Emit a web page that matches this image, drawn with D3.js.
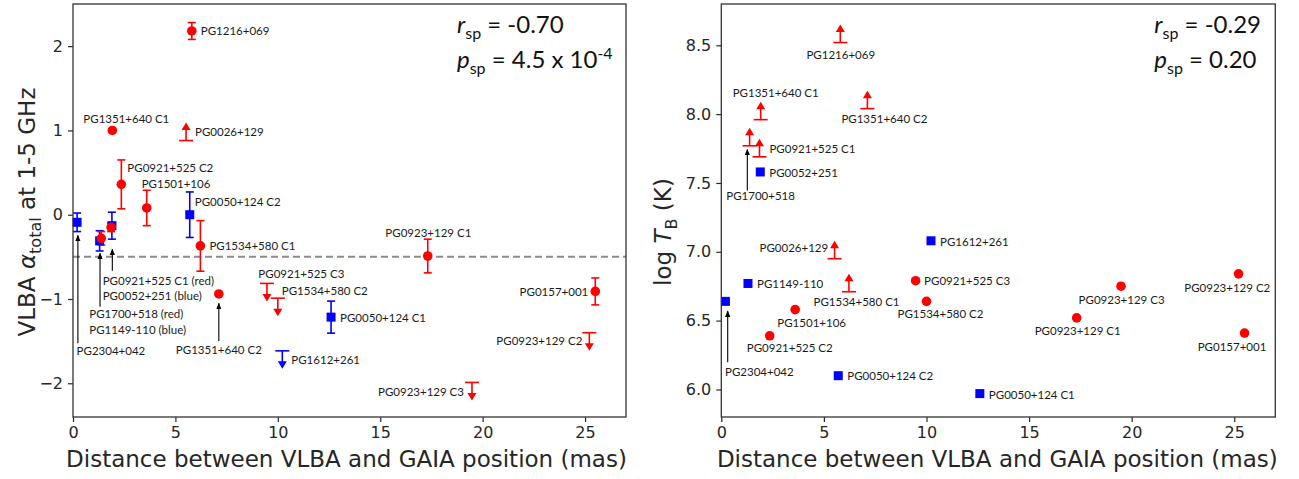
<!DOCTYPE html>
<html>
<head>
<meta charset="utf-8">
<script src="https://cdn.jsdelivr.net/npm/d3@7"></script>
<style>
  body { margin: 0; background: #fff; }
  svg { display: block; }
</style>
</head>
<body>
<svg id="fig" width="1299" height="479"></svg>
<script>
// ---- Source list shared by both panels ----
const sources = [
  "PG1216+069", "PG1351+640 C1", "PG0026+129", "PG0921+525 C2", "PG1501+106",
  "PG0050+124 C2", "PG1534+580 C1", "PG2304+042", "PG1149-110", "PG1700+518",
  "PG0052+251", "PG0921+525 C1", "PG1351+640 C2", "PG0921+525 C3", "PG1534+580 C2",
  "PG1612+261", "PG0050+124 C1", "PG0923+129 C1", "PG0923+129 C3", "PG0923+129 C2",
  "PG0157+001"
];
// Offset between VLBA and GAIA positions (mas)
const distanceMas = [
  5.80, 1.92, 5.52, 2.36, 3.60,
  5.70, 6.22, 0.20, 1.30, 1.38,
  1.90, 1.86, 7.12, 9.47, 10.00,
  10.22, 12.60, 17.32, 19.48, 25.21,
  25.50
];
// Sample membership: "A" drawn as red circles, "B" as blue squares
const sampleGroup = [
  "A", "A", "A", "A", "A",
  "B", "A", "B", "B", "A",
  "B", "A", "A", "A", "A",
  "B", "B", "A", "A", "A",
  "A"
];
// Total spectral index between 1 and 5 GHz
const alphaTotal = [
  2.18, 1.00, 0.88, 0.36, 0.08,
  0.00, -0.37, -0.09, -0.31, -0.28,
  -0.13, -0.15, -0.94, -0.815, -0.99,
  -1.615, -1.215, -0.49, -1.99, -1.40,
  -0.91
];
const alphaErr = [
  0.10, 0, 0, 0.29, 0.21,
  0.27, 0.30, 0.11, 0.12, 0.08,
  0.16, 0.05, 0, 0, 0,
  0, 0.19, 0.20, 0, 0,
  0.16
];
// "" = measurement, "upper" = upper limit, "lower" = lower limit
const alphaLimit = [
  "", "", "lower", "", "",
  "", "", "", "", "",
  "", "", "", "upper", "upper",
  "upper", "", "", "upper", "upper",
  ""
];
// Brightness temperature, log T_B (K)
const logTb = [
  8.52, 7.96, 6.95, 6.39, 6.58,
  6.10, 6.71, 6.64, 6.77, 7.77,
  7.58, 7.69, 8.04, 6.79, 6.64,
  7.08, 5.97, 6.52, 6.75, 6.84,
  6.41
];
const logTbLimit = [
  "lower", "lower", "lower", "", "",
  "", "lower", "", "", "lower",
  "", "lower", "lower", "", "",
  "", "", "", "", "",
  ""
];
const distanceTicks = [0, 5, 10, 15, 20, 25];
const alphaTicks = [-2, -1, 0, 1, 2];
const logTbTicks = [6.0, 6.5, 7.0, 7.5, 8.0, 8.5];

// ---- Label placement (pixel offsets from each mark) ----
// [source, text, dx, dy, anchor]
const alphaLabels = [
  ["PG1216+069", "PG1216+069", 9, 0, "start"],
  ["PG1351+640 C1", "PG1351+640 C1", 14, -12, "middle"],
  ["PG0026+129", "PG0026+129", 9, -9, "start"],
  ["PG0921+525 C2", "PG0921+525 C2", 6, -17, "start"],
  ["PG1501+106", "PG1501+106", -5, -24, "start"],
  ["PG0050+124 C2", "PG0050+124 C2", 5, -13, "start"],
  ["PG1534+580 C1", "PG1534+580 C1", 9, 0, "start"],
  ["PG2304+042", "PG2304+042", -0.5, 128, "start"],
  ["PG0921+525 C1", "PG0921+525 C1 (red)", -8.4, 53.5, "start"],
  ["PG0052+251", "PG0052+251 (blue)", -9.2, 69.5, "start"],
  ["PG1700+518", "PG1700+518 (red)", -12, 75.4, "start"],
  ["PG1149-110", "PG1149-110 (blue)", -10.3, 88.5, "start"],
  ["PG1351+640 C2", "PG1351+640 C2", 0, 56, "middle"],
  ["PG0921+525 C3", "PG0921+525 C3", -8.6, -10.3, "start"],
  ["PG1534+580 C2", "PG1534+580 C2", 4, -8, "start"],
  ["PG1612+261", "PG1612+261", 9, 9, "start"],
  ["PG0050+124 C1", "PG0050+124 C1", 9, 0, "start"],
  ["PG0923+129 C1", "PG0923+129 C1", 0.6, -24, "middle"],
  ["PG0157+001", "PG0157+001", -7, 0.5, "end"],
  ["PG0923+129 C2", "PG0923+129 C2", -7, 8, "end"],
  ["PG0923+129 C3", "PG0923+129 C3", -8, 9, "end"]
];
// [source, dx, dy start, dy tip]
const alphaPointers = [
  ["PG2304+042", 0.8, 121, 13],
  ["PG1149-110", 0.4, 66, 12.5],
  ["PG0052+251", 0.4, 45, 23.5],
  ["PG1351+640 C2", 0, 47, 9.4]
];
const tbLabels = [
  ["PG1216+069", "PG1216+069", 0.5, 12, "middle"],
  ["PG1351+640 C1", "PG1351+640 C1", 15, -27, "middle"],
  ["PG1351+640 C2", "PG1351+640 C2", 17, 10, "middle"],
  ["PG1700+518", "PG1700+518", 11, 50, "middle"],
  ["PG0921+525 C1", "PG0921+525 C1", 10, -8, "start"],
  ["PG0052+251", "PG0052+251", 9, 0.5, "start"],
  ["PG0026+129", "PG0026+129", -6.4, -11, "end"],
  ["PG1534+580 C1", "PG1534+580 C1", 7.6, 10, "middle"],
  ["PG1612+261", "PG1612+261", 9, 0.5, "start"],
  ["PG1149-110", "PG1149-110", 9, 0, "start"],
  ["PG2304+042", "PG2304+042", -0.4, 70.6, "start"],
  ["PG0050+124 C2", "PG0050+124 C2", 9, 0, "start"],
  ["PG0050+124 C1", "PG0050+124 C1", 9, 1, "start"],
  ["PG0921+525 C3", "PG0921+525 C3", 8.5, 0, "start"],
  ["PG1534+580 C2", "PG1534+580 C2", 14, 12, "middle"],
  ["PG1501+106", "PG1501+106", 16.5, 12.6, "middle"],
  ["PG0921+525 C2", "PG0921+525 C2", 20, 12, "middle"],
  ["PG0923+129 C1", "PG0923+129 C1", 1, 12.4, "middle"],
  ["PG0923+129 C3", "PG0923+129 C3", 0.6, 13.4, "middle"],
  ["PG0923+129 C2", "PG0923+129 C2", -11.3, 13.6, "middle"],
  ["PG0157+001", "PG0157+001", -12.5, 13.5, "middle"]
];
const tbPointers = [
  ["PG1700+518", -2.3, 44.6, 3.6],
  ["PG2304+042", 2.3, 61, 9.6]
];

// ---- Styling ----
const RED = "#ff0000", BLUE = "#0000ff", INK = "#262626";
const TICK_FONT = "'DejaVu Sans', sans-serif";
const NOTE_FONT = "Lato, 'Liberation Sans', sans-serif";
const LIMIT_LEN = 18, CAP_W = 8, LIMIT_CAP_W = 14;

const svg = d3.select("#fig");

// arrowhead marker for the pointer lines
const defs = svg.append("defs");
defs.append("marker")
  .attr("id", "tip").attr("viewBox", "0 0 10 10")
  .attr("refX", 9).attr("refY", 5)
  .attr("markerWidth", 6).attr("markerHeight", 6)
  .attr("orient", "auto-start-reverse")
  .append("path").attr("d", "M0,1 L10,5 L0,9 Z").attr("fill", "#000");

function drawPanel(cfg) {
  const g = svg.append("g").attr("transform", `translate(${cfg.left},${cfg.top})`);
  const x = d3.scaleLinear().domain([0, 27]).range([0, cfg.width]);
  const y = d3.scaleLinear().domain(cfg.yDomain).range([cfg.height, 0]);

  // axes
  const xa = g.append("g").attr("transform", `translate(0,${cfg.height})`)
    .call(d3.axisBottom(x).tickValues(distanceTicks).tickSize(5).tickPadding(5));
  const ya = g.append("g")
    .call(d3.axisLeft(y).tickValues(cfg.yTicks).tickFormat(cfg.yFormat).tickSize(5).tickPadding(5));
  [xa, ya].forEach(a => {
    a.select(".domain").remove();
    a.selectAll("line").attr("stroke", INK).attr("stroke-width", 1.2);
    a.selectAll("text").attr("fill", INK).style("font-family", TICK_FONT).style("font-size", "16px");
  });

  // reference line
  if (cfg.refLine !== undefined) {
    g.append("line")
      .attr("x1", 0).attr("x2", cfg.width)
      .attr("y1", y(cfg.refLine)).attr("y2", y(cfg.refLine))
      .attr("stroke", "#8c8c8c").attr("stroke-width", 2).attr("stroke-dasharray", "7,4");
  }

  const rows = sources.map((name, i) => ({
    name, d: distanceMas[i], v: cfg.values[i], e: cfg.errors ? cfg.errors[i] : 0,
    lim: cfg.limits[i], grp: sampleGroup[i]
  }));
  const byName = new Map(rows.map(r => [r.name, r]));
  const col = r => r.grp === "A" ? RED : BLUE;

  // error bars of measurements
  const marks = g.append("g");
  rows.filter(r => r.lim === "" && r.e > 0).forEach(r => {
    const cx = x(r.d), y0 = y(r.v - r.e), y1 = y(r.v + r.e);
    marks.append("line").attr("x1", cx).attr("x2", cx).attr("y1", y0).attr("y2", y1)
      .attr("stroke", col(r)).attr("stroke-width", 1.6);
    [y0, y1].forEach(yy => marks.append("line")
      .attr("x1", cx - CAP_W / 2).attr("x2", cx + CAP_W / 2).attr("y1", yy).attr("y2", yy)
      .attr("stroke", col(r)).attr("stroke-width", 1.6));
  });

  // limits: cap at the limit value, arrow pointing away from it
  rows.filter(r => r.lim !== "").forEach(r => {
    const cx = x(r.d), cy = y(r.v);
    const dir = r.lim === "upper" ? 1 : -1;
    const tipY = cy + dir * LIMIT_LEN;
    marks.append("line").attr("x1", cx - LIMIT_CAP_W / 2).attr("x2", cx + LIMIT_CAP_W / 2)
      .attr("y1", cy).attr("y2", cy).attr("stroke", col(r)).attr("stroke-width", 1.6);
    marks.append("line").attr("x1", cx).attr("x2", cx).attr("y1", cy).attr("y2", tipY - dir * 5)
      .attr("stroke", col(r)).attr("stroke-width", 1.6);
    marks.append("path")
      .attr("d", `M${cx - 4.5},${tipY - dir * 7.5} L${cx + 4.5},${tipY - dir * 7.5} L${cx},${tipY} Z`)
      .attr("fill", col(r));
  });

  // measured points
  rows.filter(r => r.lim === "").forEach(r => {
    if (r.grp === "A") {
      marks.append("circle").attr("cx", x(r.d)).attr("cy", y(r.v)).attr("r", 4.8).attr("fill", RED);
    } else {
      marks.append("rect").attr("x", x(r.d) - 4.5).attr("y", y(r.v) - 4.5)
        .attr("width", 9).attr("height", 9).attr("fill", BLUE);
    }
  });

  // labels
  cfg.labels.forEach(([name, text, dx, dy, anchor]) => {
    const r = byName.get(name);
    g.append("text")
      .attr("x", x(r.d) + dx).attr("y", y(r.v) + dy)
      .attr("text-anchor", anchor).attr("dominant-baseline", "central")
      .attr("fill", "#1a1a1a")
      .style("font-family", NOTE_FONT).style("font-size", "11.5px")
      .text(text);
  });
  cfg.pointers.forEach(([name, dx, dyStart, dyTip]) => {
    const r = byName.get(name);
    g.append("line")
      .attr("x1", x(r.d) + dx).attr("x2", x(r.d) + dx)
      .attr("y1", y(r.v) + dyStart).attr("y2", y(r.v) + dyTip)
      .attr("stroke", "#000").attr("stroke-width", 1.1)
      .attr("marker-end", "url(#tip)");
  });

  // frame
  g.append("rect").attr("x", 0).attr("y", 0).attr("width", cfg.width).attr("height", cfg.height)
    .attr("fill", "none").attr("stroke", "#333").attr("stroke-width", 1.3);

  // correlation statistics
  const st = g.append("g").style("font-family", NOTE_FONT).style("font-size", "24px").attr("fill", "#111");
  const t1 = st.append("text").attr("x", cfg.statX).attr("y", 29);
  t1.append("tspan").style("font-style", "italic").text("r");
  t1.append("tspan").attr("dy", 6).style("font-size", "16px").text("sp");
  t1.append("tspan").attr("dy", -6).text(" = " + cfg.rsp);
  const t2 = st.append("text").attr("x", cfg.statX).attr("y", 64);
  t2.append("tspan").style("font-style", "italic").text("p");
  t2.append("tspan").attr("dy", 6).style("font-size", "16px").text("sp");
  t2.append("tspan").attr("dy", -6).text(" = " + cfg.psp);
  if (cfg.pspExp) {
    t2.append("tspan").attr("dy", -9).style("font-size", "16px").text(cfg.pspExp);
  }

  // x axis title
  g.append("text")
    .attr("x", cfg.width / 2 + cfg.xTitleShift).attr("y", 467 - cfg.top)
    .attr("text-anchor", "middle").attr("fill", INK)
    .style("font-family", TICK_FONT).style("font-size", "23px")
    .text("Distance between VLBA and GAIA position (mas)");

  // y axis title
  const yt = g.append("text")
    .attr("transform", `translate(${cfg.yTitleX},${cfg.yTitleY}) rotate(-90)`)
    .attr("text-anchor", "middle").attr("fill", INK)
    .style("font-family", TICK_FONT).style("font-size", "23px");
  cfg.yTitle(yt);
}

drawPanel({
  left: 73, top: 4, width: 553, height: 413,
  yDomain: [-2.4, 2.5], yTicks: alphaTicks, yFormat: d3.format("d"),
  values: alphaTotal, errors: alphaErr, limits: alphaLimit,
  refLine: -0.5,
  labels: alphaLabels, pointers: alphaPointers,
  statX: 384, rsp: "-0.70", psp: "4.5 x 10", pspExp: "-4",
  xTitleShift: -3,
  yTitleX: -38, yTitleY: 208,
  yTitle: t => {
    t.append("tspan").text("VLBA ");
    t.append("tspan").style("font-style", "italic").text("α");
    t.append("tspan").attr("dy", 6).style("font-size", "16px").text("total");
    t.append("tspan").attr("dy", -6).text(" at 1-5 GHz");
  }
});

drawPanel({
  left: 721.3, top: 4, width: 554, height: 413,
  yDomain: [5.8, 8.8], yTicks: logTbTicks, yFormat: d3.format(".1f"),
  values: logTb, errors: null, limits: logTbLimit,
  labels: tbLabels, pointers: tbPointers,
  statX: 433, rsp: "-0.29", psp: "0.20", pspExp: null,
  xTitleShift: -1,
  yTitleX: -50, yTitleY: 228,
  yTitle: t => {
    t.append("tspan").text("log ");
    t.append("tspan").style("font-style", "italic").text("T");
    t.append("tspan").attr("dy", 6).style("font-size", "16px").text("B");
    t.append("tspan").attr("dy", -6).text(" (K)");
  }
});
</script>
</body>
</html>
